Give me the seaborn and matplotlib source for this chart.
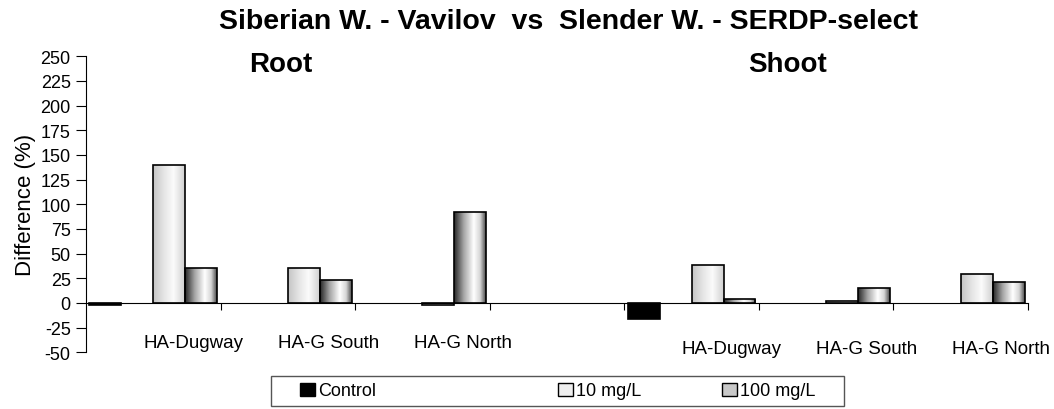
import matplotlib
matplotlib.use('Agg')
import matplotlib.pyplot as plt
from matplotlib.colors import LinearSegmentedColormap, same_color
from matplotlib.patches import Patch, Rectangle
import numpy as np
import pandas as pd
import seaborn as sns

# values (difference, %)
sites = ['HA-Dugway', 'HA-G South', 'HA-G North']
root_control = -2
shoot_control = -16
root_10 = [140, 35, -2]
root_100 = [35, 23, 92]
shoot_10 = [38, 2, 29]
shoot_100 = [4, 15, 21]

# x slots: three root sites, an empty slot, three shoot sites
slots = ['Root ' + s for s in sites] + ['gap'] + ['Shoot ' + s for s in sites]

rows = [('Root HA-Dugway', 'Control', root_control),
        ('Shoot HA-Dugway', 'Control', shoot_control)]
for s, a, b in zip(sites, root_10, root_100):
    rows.append(('Root ' + s, '10 mg/L', a))
    rows.append(('Root ' + s, '100 mg/L', b))
for s, a, b in zip(sites, shoot_10, shoot_100):
    rows.append(('Shoot ' + s, '10 mg/L', a))
    rows.append(('Shoot ' + s, '100 mg/L', b))
df = pd.DataFrame(rows, columns=['slot', 'series', 'diff'])

# the chart leaves an empty second bar slot in every group
hue_order = ['Control', ' ', '10 mg/L', '100 mg/L']
palette = {'Control': '#000000', ' ': '#ffffff',
           '10 mg/L': '#eeeeee', '100 mg/L': '#b0b0b0'}

sns.set_style('ticks')
plt.rcParams['font.family'] = ['Liberation Sans', 'DejaVu Sans']
plt.rcParams['axes.unicode_minus'] = False
for key in ['text.color', 'axes.labelcolor', 'xtick.color', 'ytick.color']:
    plt.rcParams[key] = 'black'

fig = plt.figure(figsize=(10.54, 4.10), dpi=100)
ax = fig.add_axes([86 / 1054, 0.1383, 942 / 1054, 0.7219])

sns.barplot(data=df, x='slot', y='diff', hue='series', order=slots,
            hue_order=hue_order, palette=palette, width=0.95, saturation=1,
            edgecolor='black', linewidth=1.2, errorbar=None, legend=False, ax=ax)

# shaded (cylinder-like) fills for the two dose series
cmap10 = LinearSegmentedColormap.from_list(
    'c10', [(0, '#c4c4c4'), (0.35, '#e6e6e6'), (0.65, '#fbfbfb'), (1, '#cfcfcf')])
cmap100 = LinearSegmentedColormap.from_list(
    'c100', [(0, '#262626'), (0.3, '#a4a4a4'), (0.62, '#ffffff'), (0.82, '#d6d6d6'), (1, '#4a4a4a')])
grad = np.linspace(0, 1, 128)[np.newaxis, :]
for bar in list(ax.patches):
    fc = bar.get_facecolor()
    if same_color(fc, palette['10 mg/L']):
        cmap = cmap10
    elif same_color(fc, palette['100 mg/L']):
        cmap = cmap100
    else:
        continue
    x0, y0 = bar.get_xy()
    w, h = bar.get_width(), bar.get_height()
    bar.set_facecolor('none')
    im = ax.imshow(grad, cmap=cmap, aspect='auto', interpolation='bilinear',
                   extent=[x0, x0 + w, min(y0, y0 + h), max(y0, y0 + h)],
                   zorder=bar.get_zorder() - 0.05)
    im.set_clip_path(bar)

ax.set_xlim(-0.5, 6.5)
ax.set_ylim(-50, 250)
ax.set_yticks(range(-50, 251, 25))
ax.set_xticks(np.arange(0.5, 7, 1))
ax.set_xticklabels([])
ax.set_xlabel('')
ax.set_ylabel('Difference (%)', fontsize=16, labelpad=3)
ax.tick_params(axis='y', length=7, width=0.8, direction='out', labelsize=13, pad=4, color='black')
ax.tick_params(axis='x', length=5, width=0.8, direction='out', color='black')
ax.spines['bottom'].set_position(('data', 0))
for side in ['top', 'right']:
    ax.spines[side].set_visible(False)
for side in ['left', 'bottom']:
    ax.spines[side].set_color('black')
    ax.spines[side].set_linewidth(0.8)

# site labels under each group
for i, s in enumerate(sites):
    ax.text(i + 0.3, -44.3, s, ha='center', va='baseline', fontsize=13.5)
    ax.text(4 + i + 0.3, -50.4, s, ha='center', va='baseline', fontsize=13.5)

ax.text(0.95, 234.7, 'Root', ha='center', va='baseline', fontsize=20, fontweight='bold')
ax.text(4.71, 234.7, 'Shoot', ha='center', va='baseline', fontsize=20, fontweight='bold')

fig.text(0.5394, 0.9285, 'Siberian W. - Vavilov  vs  Slender W. - SERDP-select',
         ha='center', va='baseline', fontsize=20.5, fontweight='bold')

# legend: boxed strip below the plot
handles = [Patch(facecolor='#000000', edgecolor='black', linewidth=1),
           Patch(facecolor='#eeeeee', edgecolor='black', linewidth=1),
           Patch(facecolor='#c8c8c8', edgecolor='black', linewidth=1)]
labels = ['Control', '10 mg/L', '100 mg/L']
leg_kw = dict(frameon=False, fontsize=13, handlelength=0.83, handleheight=0.7,
              handletextpad=0.15, borderpad=0, borderaxespad=0)
leg1 = fig.legend(handles[:1], labels[:1], loc='center left',
                  bbox_to_anchor=(300 / 1054, 1 - 392 / 410), **leg_kw)
leg2 = fig.legend(handles[1:], labels[1:], loc='center left', ncol=2, columnspacing=4.5,
                  bbox_to_anchor=(558 / 1054, 1 - 392 / 410), **leg_kw)
fig.add_artist(Rectangle((271 / 1054, 3 / 410), 573 / 1054, 30 / 410,
                         transform=fig.transFigure, fill=False, edgecolor='#555555', linewidth=1))

fig.savefig('out.png', dpi=100)
